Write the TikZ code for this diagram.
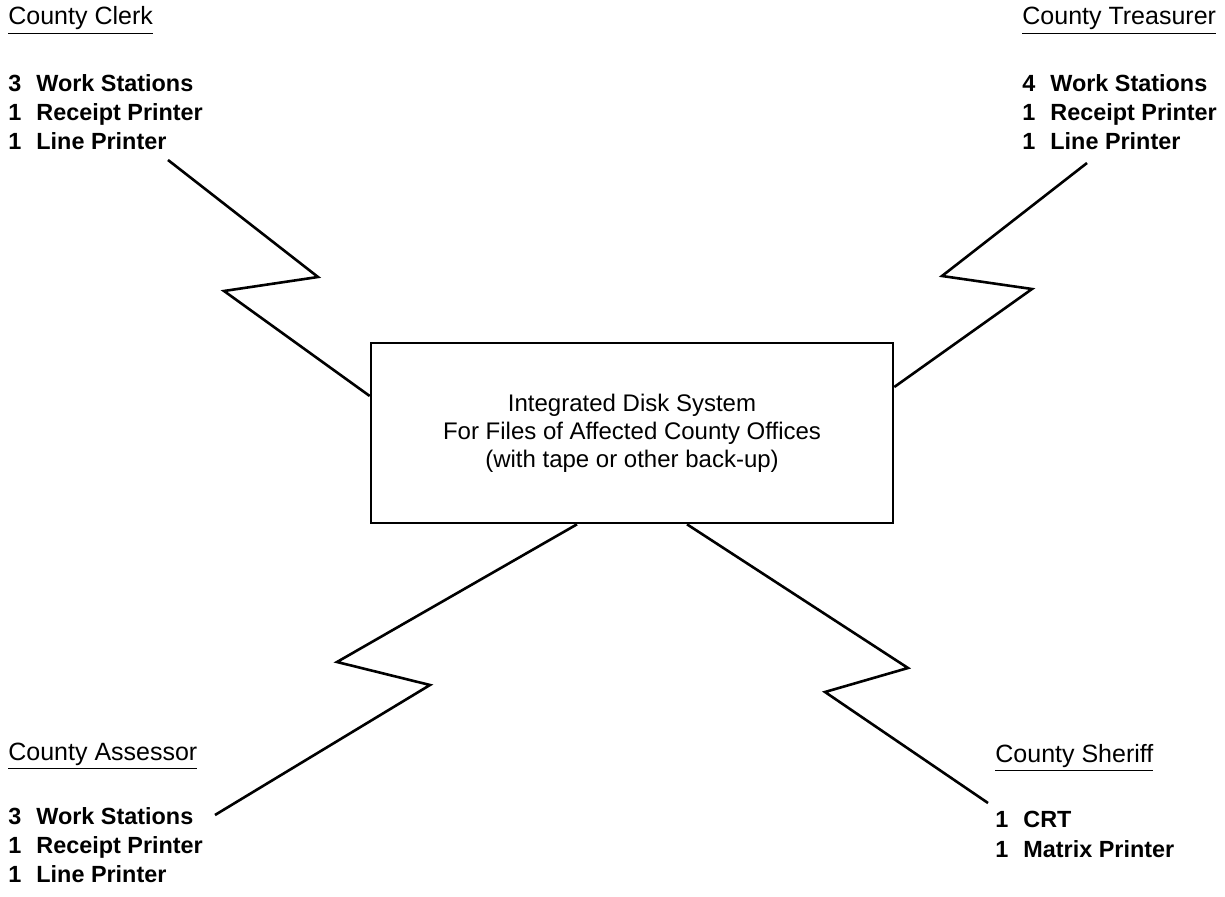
\documentclass[tikz,border=0pt]{standalone}
\usepackage{fontspec}
\setmainfont{Liberation Sans}
\begin{document}
\begin{tikzpicture}[x=0.5pt,y=-0.5pt,
  wire/.style={line width=1.3pt, line join=miter},
  head/.style={anchor=base west, inner sep=0pt, font=\fontsize{12.5}{14}\selectfont},
  items/.style={anchor=base west, inner sep=0pt, font=\bfseries\fontsize{11.7}{14.5}\selectfont},
  diskbox/.style={draw, line width=1.3pt, minimum width=261pt, minimum height=90pt, inner sep=0pt, align=center, font=\fontsize{12}{14}\selectfont}]
\useasboundingbox (0,0) rectangle (1225,897);

% central box
\node[diskbox] (disk) at (632,433) {Integrated Disk System\\For Files of Affected County Offices\\(with tape or other back-up)};

% County Clerk
\node[head] (clerkh) at (8,25) {\underline{County Clerk}};
\node[items] (clerki) at (8,92) {\begin{tabular}[t]{@{}l@{\hspace{7.5pt}}l@{}}3&Work Stations\\1&Receipt Printer\\1&Line Printer\end{tabular}};

% County Treasurer
\node[head] (treash) at (1022,25) {\underline{County Treasurer}};
\node[items] (treasi) at (1022,92) {\begin{tabular}[t]{@{}l@{\hspace{7.5pt}}l@{}}4&Work Stations\\1&Receipt Printer\\1&Line Printer\end{tabular}};

% County Assessor
\node[head] (assh) at (8,760) {\underline{County Assessor}};
\node[items] (assi) at (8,824) {\begin{tabular}[t]{@{}l@{\hspace{7.5pt}}l@{}}3&Work Stations\\1&Receipt Printer\\1&Line Printer\end{tabular}};

% County Sheriff
\node[head] (sherh) at (995,762) {\underline{County Sheriff}};
\node[items, font=\bfseries\fontsize{11.7}{15}\selectfont] (sheri) at (995,827) {\begin{tabular}[t]{@{}l@{\hspace{7.5pt}}l@{}}1&CRT\\1&Matrix Printer\end{tabular}};

% connector ends
\coordinate (clerkend) at (168,160);
\coordinate (treasend) at (1087,163);
\coordinate (assend) at (215,815);
\coordinate (sherend) at (988,803);
\coordinate (yl) at (0,396);
\coordinate (yr) at (0,387);
\coordinate (xa) at (577,0);
\coordinate (xs) at (687,0);

% zigzag links
\draw[wire] (clerkend) -- (318,277) -- (224,291) -- (disk.west |- yl);
\draw[wire] (treasend) -- (942,276) -- (1032,289) -- (disk.east |- yr);
\draw[wire] (xa |- disk.south) -- (337,662) -- (430,685) -- (assend);
\draw[wire] (xs |- disk.south) -- (908,668) -- (825,692) -- (sherend);
\end{tikzpicture}
\end{document}
